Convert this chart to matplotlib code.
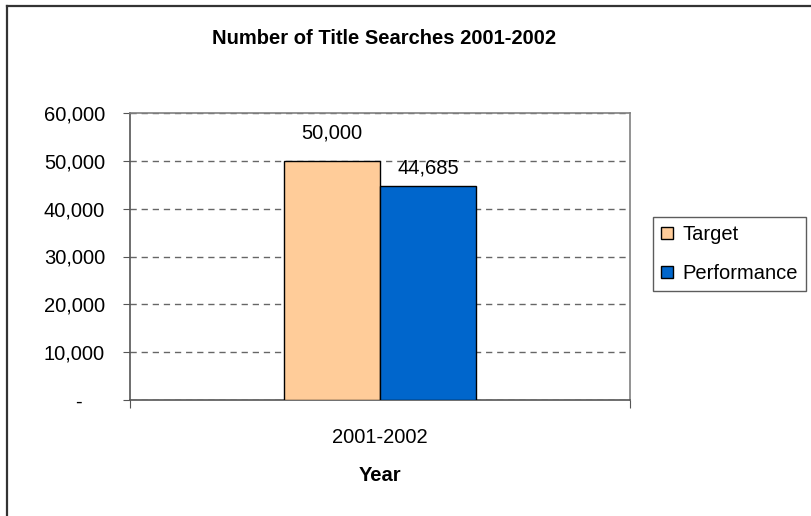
import matplotlib
matplotlib.use('Agg')
import matplotlib.pyplot as plt
from matplotlib.lines import Line2D
from matplotlib.patches import Patch
from matplotlib.ticker import FuncFormatter, FixedLocator, FixedFormatter

plt.rcParams['font.family'] = ['Liberation Sans', 'DejaVu Sans']

# data
categories = ['2001-2002']
series_names = ['Target', 'Performance']
target = [50000]
performance = [44685]
colors = ['#FFCC99', '#0066CC']

W, H = 812, 516
FS = 14.5
fig = plt.figure(figsize=(W / 100, H / 100), dpi=100)

# outer chart border (only left and top fall inside the picture)
fig.add_artist(Line2D([6.5 / W, 6.5 / W], [0, 1 - 5.5 / H], color='#333333', lw=1.6,
                      transform=fig.transFigure))
fig.add_artist(Line2D([6.5 / W, 1], [1 - 5.5 / H, 1 - 5.5 / H], color='#333333', lw=1.6,
                      transform=fig.transFigure))

ax = fig.add_axes([130 / W, (H - 400) / H, 500 / W, 287 / H])

width = 0.192
x = range(len(categories))
b1 = ax.bar([i - width / 2 for i in x], target, width, color=colors[0],
            edgecolor='black', linewidth=1.0, zorder=3)
b2 = ax.bar([i + width / 2 for i in x], performance, width, color=colors[1],
            edgecolor='black', linewidth=1.0, zorder=3)

# value labels, offset in pixels above the bar top
for bars, vals, off in ((b1, target, 28), (b2, performance, 18)):
    for rect, v in zip(bars, vals):
        ax.annotate(f'{v:,}', (rect.get_x() + rect.get_width() / 2, v),
                    xytext=(0, off * 0.72), textcoords='offset points',
                    ha='center', va='center', fontsize=FS)

ax.set_xlim(-0.5, 0.5)
ax.set_ylim(0, 60000)
ax.set_yticks(range(0, 60001, 10000))
# accounting style: zero shown as a dash, padded on the right
ax.yaxis.set_major_formatter(FuncFormatter(lambda v, p: '-    ' if v == 0 else f'{int(v):,}'))
ax.set_xticks([-0.5, 0.5])
ax.set_xticklabels(['', ''])
ax.xaxis.set_minor_locator(FixedLocator([0]))
ax.xaxis.set_minor_formatter(FixedFormatter(categories))
ax.tick_params(axis='x', which='minor', length=0, labelsize=FS, pad=20)
ax.tick_params(axis='x', which='major', length=6, direction='out', color='#555555')
ax.tick_params(axis='y', length=5, direction='out', labelsize=FS, pad=13, color='#555555')

ax.yaxis.grid(True, linestyle=(0, (4.5, 3.5)), color='#666666', linewidth=1, zorder=0)
ax.set_axisbelow(True)

for side in ('top', 'right'):
    ax.spines[side].set_color('#808080')
for side in ('left', 'bottom'):
    ax.spines[side].set_color('#555555')
for s in ax.spines.values():
    s.set_linewidth(1.2)

ax.set_xlabel('Year', fontsize=FS, fontweight='bold', labelpad=14)
fig.text(384 / W, 1 - 39 / H, 'Number of Title Searches 2001-2002', ha='center', va='center',
         fontsize=FS, fontweight='bold')

handles = [Patch(facecolor=c, edgecolor='black', linewidth=1) for c in colors]
leg = fig.legend(handles, series_names, loc='upper left', bbox_to_anchor=(653 / W, 1 - 217 / H),
                 fontsize=FS, frameon=True, fancybox=False, edgecolor='#333333',
                 handlelength=0.6, handleheight=0.6, handletextpad=0.45,
                 borderpad=0.4, labelspacing=1.0, borderaxespad=0)
leg.get_frame().set_linewidth(1)

fig.savefig('out.png', dpi=100)
